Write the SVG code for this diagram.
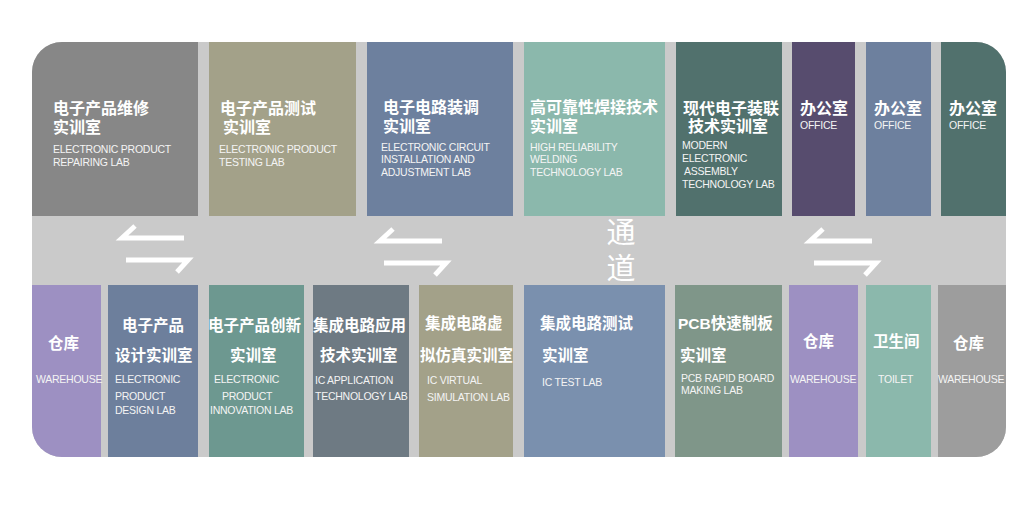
<svg xmlns="http://www.w3.org/2000/svg" xmlns:xlink="http://www.w3.org/1999/xlink" width="1024" height="512" viewBox="0 0 1024 512">
<defs>
<style>
.cn{font-family:"Liberation Sans","Noto Sans CJK SC",sans-serif;font-weight:700;font-size:16px;fill:#ffffff}
.cb{font-family:"Liberation Sans","Noto Sans CJK SC",sans-serif;font-weight:700;font-size:15.5px;fill:#ffffff}
.en{font-family:"Liberation Sans",Arial,sans-serif;font-size:10.5px;letter-spacing:-0.25px;fill:#f4f4f4}
.aisle{font-family:"Noto Sans CJK SC",sans-serif;font-weight:400;font-size:29px;fill:#ffffff;writing-mode:vertical-rl;letter-spacing:7px}
.arrow{fill:none;stroke:#ffffff;stroke-width:5;stroke-linejoin:miter}
</style>
<clipPath id="outer"><rect x="32" y="42" width="974" height="415" rx="30" ry="30"/></clipPath>
<path id="swap" d="M13,-12 L0,0 L62,0 M4,22 L66,22 L55,34"/>
</defs>
<rect x="32" y="42" width="974" height="415" rx="30" ry="30" fill="#cacaca"/>
<g clip-path="url(#outer)">
<g id="top1"><rect x="32" y="42" width="166" height="174" fill="#878787"/>
<text class="cn" x="53" y="114">电子产品维修</text><text class="cn" x="53" y="133">实训室</text>
<text class="en" x="53" y="153">ELECTRONIC PRODUCT</text><text class="en" x="53" y="166">REPAIRING LAB</text></g>
<g id="top2"><rect x="209" y="42" width="147" height="174" fill="#a3a189"/>
<text class="cn" x="220" y="114">电子产品测试</text><text class="cn" x="223" y="133">实训室</text>
<text class="en" x="219" y="153">ELECTRONIC PRODUCT</text><text class="en" x="219" y="166">TESTING LAB</text></g>
<g id="top3"><rect x="367" y="42" width="146" height="174" fill="#6d809e"/>
<text class="cn" x="383" y="113">电子电路装调</text><text class="cn" x="383" y="132">实训室</text>
<text class="en" x="381" y="151">ELECTRONIC CIRCUIT</text><text class="en" x="381" y="163">INSTALLATION AND</text><text class="en" x="381" y="176">ADJUSTMENT LAB</text></g>
<g id="top4"><rect x="524" y="42" width="141" height="174" fill="#8bb8ac"/>
<text class="cn" x="530" y="113">高可靠性焊接技术</text><text class="cn" x="530" y="132">实训室</text>
<text class="en" x="530" y="151">HIGH RELIABILITY</text><text class="en" x="530" y="163">WELDING</text><text class="en" x="530" y="176">TECHNOLOGY LAB</text></g>
<g id="top5"><rect x="676" y="42" width="106" height="174" fill="#51716d"/>
<text class="cn" x="683" y="114">现代电子装联</text><text class="cn" x="688" y="132">技术实训室</text>
<text class="en" x="682" y="149">MODERN</text><text class="en" x="682" y="162">ELECTRONIC</text><text class="en" x="684" y="175">ASSEMBLY</text><text class="en" x="682" y="188">TECHNOLOGY LAB</text></g>
<g id="top6"><rect x="792" y="42" width="63" height="174" fill="#574c6e"/>
<text class="cn" x="800" y="114">办公室</text><text class="en" x="800" y="129">OFFICE</text></g>
<g id="top7"><rect x="866" y="42" width="65" height="174" fill="#6d809e"/>
<text class="cn" x="874" y="114">办公室</text><text class="en" x="874" y="129">OFFICE</text></g>
<g id="top8"><rect x="941" y="42" width="65" height="174" fill="#51716d"/>
<text class="cn" x="949" y="114">办公室</text><text class="en" x="949" y="129">OFFICE</text></g>

<g id="bot1"><rect x="32" y="285" width="69" height="172" fill="#9d90c2"/>
<text class="cb" x="48" y="349">仓库</text><text class="en" x="36" y="383">WAREHOUSE</text></g>
<g id="bot2"><rect x="108" y="285" width="90" height="172" fill="#6d7f9c"/>
<text class="cb" x="122" y="331">电子产品</text><text class="cb" x="115" y="361">设计实训室</text>
<text class="en" x="115" y="383">ELECTRONIC</text><text class="en" x="115" y="400">PRODUCT</text><text class="en" x="115" y="414">DESIGN LAB</text></g>
<g id="bot3"><rect x="209" y="285" width="95" height="172" fill="#6d9890"/>
<text class="cb" x="208" y="331">电子产品创新</text><text class="cb" x="230" y="361">实训室</text>
<text class="en" x="214" y="383">ELECTRONIC</text><text class="en" x="222" y="400">PRODUCT</text><text class="en" x="210" y="414">INNOVATION LAB</text></g>
<g id="bot4"><rect x="313" y="285" width="96" height="172" fill="#6e7a83"/>
<text class="cb" x="313" y="331">集成电路应用</text><text class="cb" x="320" y="361">技术实训室</text>
<text class="en" x="315" y="384">IC APPLICATION</text><text class="en" x="315" y="400">TECHNOLOGY LAB</text></g>
<g id="bot5"><rect x="419" y="285" width="94" height="172" fill="#a3a189"/>
<text class="cb" x="425" y="329">集成电路虚</text><text class="cb" x="420" y="361">拟仿真实训室</text>
<text class="en" x="427" y="384">IC VIRTUAL</text><text class="en" x="427" y="401">SIMULATION LAB</text></g>
<g id="bot6"><rect x="524" y="285" width="141" height="172" fill="#7a90ae"/>
<text class="cb" x="540" y="329">集成电路测试</text><text class="cb" x="542" y="361">实训室</text>
<text class="en" x="542" y="386">IC TEST LAB</text></g>
<g id="bot7"><rect x="675" y="285" width="107" height="172" fill="#7f9689"/>
<text class="cb" x="678" y="329">PCB快速制板</text><text class="cb" x="680" y="361">实训室</text>
<text class="en" x="681" y="382">PCB RAPID BOARD</text><text class="en" x="681" y="394">MAKING LAB</text></g>
<g id="bot8"><rect x="789" y="285" width="69" height="172" fill="#9d90c2"/>
<text class="cb" x="803" y="347">仓库</text><text class="en" x="790" y="383">WAREHOUSE</text></g>
<g id="bot9"><rect x="866" y="285" width="65" height="172" fill="#8bb8ac"/>
<text class="cb" x="873" y="347">卫生间</text><text class="en" x="878" y="383">TOILET</text></g>
<g id="bot10"><rect x="938" y="285" width="68" height="172" fill="#9d9d9d"/>
<text class="cb" x="953" y="349">仓库</text><text class="en" x="938" y="383">WAREHOUSE</text></g>
</g>

<g id="corridor">
<text class="aisle" x="621" y="217">通道</text>
</g>
<g id="connectors">
<use xlink:href="#swap" class="arrow" transform="translate(122,238)"/>
<use xlink:href="#swap" class="arrow" transform="translate(380,241)"/>
<use xlink:href="#swap" class="arrow" transform="translate(810,241)"/>
</g>
</svg>
